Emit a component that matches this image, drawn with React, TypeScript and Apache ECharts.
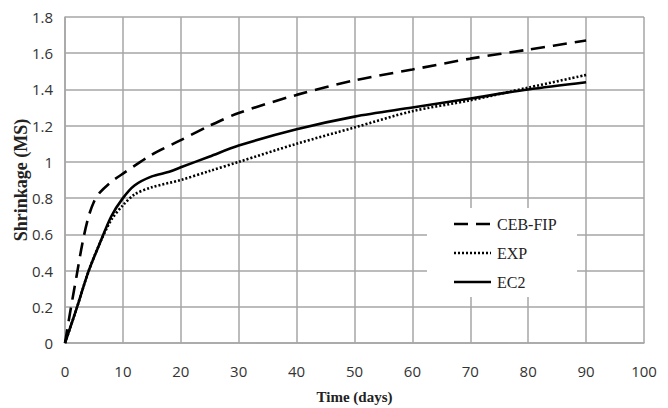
import React, { useEffect, useRef } from "react";
import * as echarts from "echarts";

const cebDays = [0, 1, 2, 3, 4, 5, 6, 8, 10, 15, 20, 25, 30, 40, 50, 60, 70, 80, 90];
const cebValues = [0, 0.19, 0.37, 0.55, 0.69, 0.78, 0.83, 0.89, 0.935, 1.04, 1.12, 1.2, 1.27, 1.37, 1.45, 1.51, 1.57, 1.62, 1.67];

const expDays = [0, 2, 4, 6, 8, 10, 12, 15, 20, 25, 30, 40, 50, 60, 70, 80, 90];
const expValues = [0, 0.19, 0.39, 0.55, 0.68, 0.76, 0.82, 0.86, 0.9, 0.95, 1.0, 1.1, 1.19, 1.28, 1.34, 1.41, 1.48];

const ec2Days = [0, 2, 4, 6, 8, 10, 12, 15, 18, 20, 25, 30, 40, 50, 60, 70, 80, 90];
const ec2Values = [0, 0.19, 0.39, 0.55, 0.7, 0.8, 0.87, 0.92, 0.945, 0.97, 1.03, 1.09, 1.18, 1.25, 1.3, 1.35, 1.4, 1.44];

const seriesNames = ["CEB-FIP", "EXP", "EC2"];
const xTitle = "Time (days)";
const yTitle = "Shrinkage (MS)";

const pairs = (xs: number[], ys: number[]) => xs.map((x, i) => [x, ys[i]]);

export default function App() {
  const ref = useRef<HTMLDivElement>(null);
  useEffect(() => {
    if (!ref.current) return;
    const chart = echarts.init(ref.current, undefined, { renderer: "svg" });
    const gridColor = "#a6a6a6";
    const tickFont = { fontFamily: "Open Sans", fontSize: 15, color: "#333" };
    const titleFont = { fontFamily: "Liberation Serif", fontWeight: "bold" as const, color: "#222" };
    const lineTypes: any[] = [[14, 8], [2, 2], "solid"];
    const baseSeries = {
      type: "line" as const,
      symbol: "none",
      showSymbol: false,
      smooth: 0.3,
    };
    const legendX = 427;
    const legendY = 208;
    const rowCenters = [224, 253, 282];
    const legendGraphics: any[] = [
      {
        type: "rect",
        shape: { x: legendX, y: legendY, width: 150, height: 89 },
        style: { fill: "#ffffff" },
        z: 10,
      },
    ];
    seriesNames.forEach((name, i) => {
      legendGraphics.push({
        type: "line",
        shape: { x1: 454, y1: rowCenters[i], x2: 491, y2: rowCenters[i] },
        style: { stroke: "#000", lineWidth: 2.6, lineDash: lineTypes[i] === "solid" ? null : lineTypes[i] },
        z: 11,
      });
      legendGraphics.push({
        type: "text",
        x: 497,
        y: rowCenters[i],
        style: {
          text: name,
          fontFamily: "Liberation Serif",
          fontSize: 16,
          fill: "#222",
          verticalAlign: "middle",
          align: "left",
        },
        z: 11,
      });
    });
    chart.setOption({
      animation: false,
      backgroundColor: "#ffffff",
      grid: { left: 65, right: 24, top: 17, bottom: 65, containLabel: false, outerBoundsMode: "none" },
      xAxis: {
        type: "value",
        min: 0,
        max: 100,
        interval: 10,
        name: xTitle,
        nameLocation: "middle",
        nameGap: 46,
        nameTextStyle: { ...titleFont, fontSize: 15 },
        axisLine: { show: true, lineStyle: { color: gridColor, width: 1.5 } },
        axisTick: { show: false },
        axisLabel: { ...tickFont, margin: 20 },
        splitLine: { show: true, lineStyle: { color: gridColor, width: 1.5 } },
      },
      yAxis: {
        type: "value",
        min: 0,
        max: 1.8,
        interval: 0.2,
        name: yTitle,
        nameLocation: "middle",
        nameMoveOverlap: false,
        nameGap: 35,
        nameTextStyle: { ...titleFont, fontSize: 18 },
        axisLine: { show: true, lineStyle: { color: gridColor, width: 1.5 } },
        axisTick: { show: false },
        axisLabel: {
          ...tickFont,
          margin: 12,
          formatter: (v: number) => String(Math.round(v * 10) / 10),
        },
        splitLine: { show: true, lineStyle: { color: gridColor, width: 1.5 } },
      },
      graphic: legendGraphics,
      series: [
        {
          ...baseSeries,
          name: seriesNames[0],
          data: pairs(cebDays, cebValues),
          lineStyle: { color: "#000", width: 2.6, type: lineTypes[0] },
          z: 3,
        },
        {
          ...baseSeries,
          name: seriesNames[1],
          data: pairs(expDays, expValues),
          lineStyle: { color: "#000", width: 2.6, type: lineTypes[1] },
          z: 3,
        },
        {
          ...baseSeries,
          name: seriesNames[2],
          data: pairs(ec2Days, ec2Values),
          lineStyle: { color: "#000", width: 2.6, type: lineTypes[2] },
          z: 4,
        },
      ],
    });
    return () => chart.dispose();
  }, []);
  return <div ref={ref} style={{ width: 668, height: 408, position: "absolute", left: 0, top: 0 }} />;
}
